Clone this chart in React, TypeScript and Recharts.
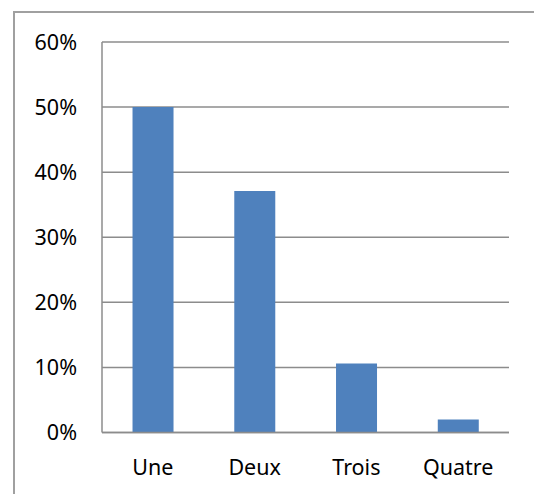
import React from 'react';
import { BarChart, Bar, XAxis, YAxis, CartesianGrid } from 'recharts';

const categories = ['Une', 'Deux', 'Trois', 'Quatre'];
const shares = [0.5, 0.371, 0.106, 0.02];
const yTicks = [0, 0.1, 0.2, 0.3, 0.4, 0.5, 0.6];

const data = categories.map((name, i) => ({ name, value: shares[i] }));

const pct = (v: number) => `${Math.round(v * 100)}%`;

export default function App() {
  return (
    <div
      style={{
        position: 'absolute',
        left: 0,
        top: 0,
        width: 534,
        height: 494,
        overflow: 'hidden',
        background: '#fff',
      }}
    >
      {/* outer chart frame, cropped on the right and bottom */}
      <div
        style={{
          position: 'absolute',
          left: 13,
          top: 11,
          width: 600,
          height: 600,
          border: '2px solid #a0a0a0',
        }}
      />
      <BarChart
        width={534}
        height={494}
        data={data}
        margin={{ top: 42, right: 25, left: 0, bottom: 0 }}
        barCategoryGap="30%"
        style={{ position: 'absolute', left: 0, top: 0, fontFamily: '"Noto Sans", sans-serif' }}
      >
        <CartesianGrid vertical={false} stroke="#8c8c8c" strokeWidth={1.5} />
        <XAxis
          dataKey="name"
          height={61.5}
          tickLine={false}
          axisLine={{ stroke: '#8c8c8c', strokeWidth: 1.5 }}
          tick={{ fill: '#000', fontSize: 21.5 }}
          tickMargin={21}
        />
        <YAxis
          width={102}
          domain={[0, 0.6]}
          ticks={yTicks}
          tickFormatter={pct}
          tickLine={false}
          axisLine={{ stroke: '#8c8c8c', strokeWidth: 1.5 }}
          tick={{ fill: '#000', fontSize: 21.5 }}
          tickMargin={19}
          interval={0}
        />
        <Bar dataKey="value" fill="#4f81bd" isAnimationActive={false} />
      </BarChart>
    </div>
  );
}
